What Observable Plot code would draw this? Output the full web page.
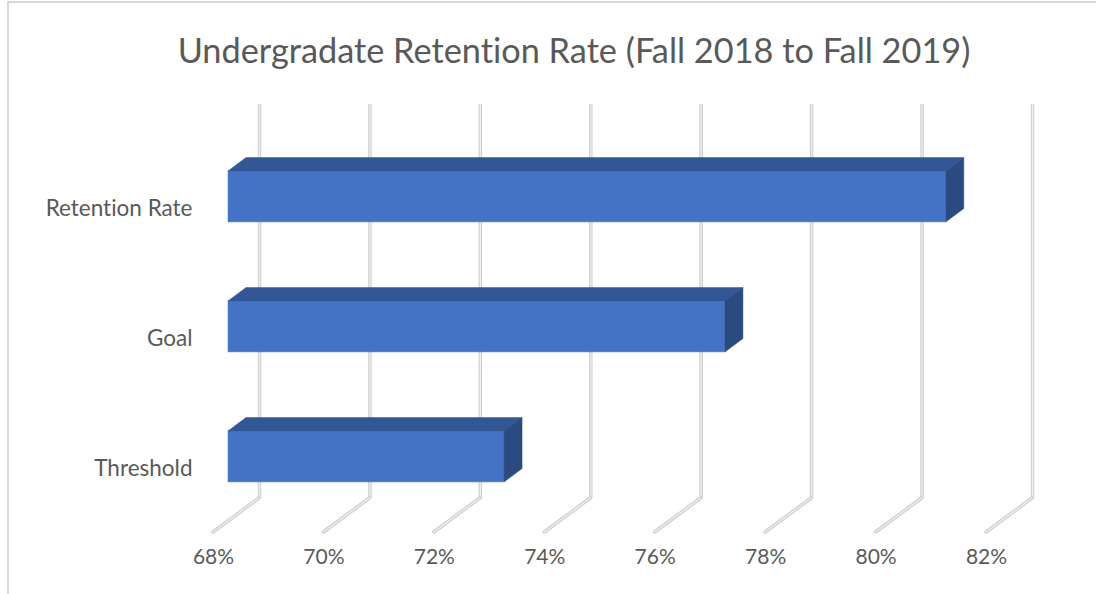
<!DOCTYPE html>
<html><head><meta charset="utf-8">
<script src="https://cdn.jsdelivr.net/npm/d3@7"></script>
<script src="https://cdn.jsdelivr.net/npm/@observablehq/plot@0.6"></script>
<style>
html,body{margin:0;padding:0;background:#fff;}
#wrap{position:relative;width:1096px;height:594px;overflow:hidden;font-family:Lato,sans-serif;background:#fff;font-variant-ligatures:none;font-feature-settings:"liga" 0, "clig" 0;}
#wrap text{font-variant-ligatures:none;font-feature-settings:"liga" 0, "clig" 0;}
#frame{position:absolute;left:7px;top:1px;width:2000px;height:2000px;border-left:2px solid #d9d9d9;border-top:2px solid #d9d9d9;}
#title{position:relative;height:92px;box-sizing:border-box;padding-top:29px;padding-left:52px;text-align:center;font-size:34.3px;line-height:42px;color:#595959;white-space:nowrap;}
#chart{position:relative;}
</style></head><body>
<div id="wrap"><div id="frame"></div><div id="title"></div><div id="chart"></div></div>
<script>
const titleText = "Undergradate Retention Rate (Fall 2018 to Fall 2019)";
const categories = ["Retention Rate", "Goal", "Threshold"];
const rates = [81, 77, 73];
const xTicks = [68, 70, 72, 74, 76, 78, 80, 82];
const xDomain = [68, 82];

const data = categories.map((c, i) => ({category: c, rate: rates[i]}));

// 3D projection offsets (pixels) for full depth of the floor
const DEPTH_DX = -46, DEPTH_DY = 34;
const BAR_BACK = 0.283, BAR_FRONT = 0.674;
const PAD_INNER = 0.6077;

document.getElementById("title").textContent = titleText;

function tube(g, x1, y1, x2, y2) {
  g.append("line").attr("x1", x1).attr("y1", y1).attr("x2", x2).attr("y2", y2)
    .attr("stroke", "#cdcdcd").attr("stroke-width", 3.5).attr("stroke-linecap", "round");
  g.append("line").attr("x1", x1).attr("y1", y1).attr("x2", x2).attr("y2", y2)
    .attr("stroke", "#eeeeee").attr("stroke-width", 1.4).attr("stroke-linecap", "round");
}

function floorLines(index, scales, values, dims) {
  const g = d3.create("svg:g");
  const X = scales.x;
  const yb = dims.height - dims.marginBottom;
  for (const t of xTicks) {
    const x0 = X(t);
    tube(g, x0, yb, x0 + DEPTH_DX, yb + DEPTH_DY);
  }
  return g.node();
}

function barFaces(index, scales, values, dims) {
  const g = d3.create("svg:g");
  const X = scales.x, Y = scales.y;
  let bw = Y.bandwidth;
  if (typeof bw === "function") bw = bw.call(Y);
  if (typeof bw !== "number" || !isFinite(bw)) bw = (Y(categories[1]) - Y(categories[0])) * (1 - PAD_INNER);
  const bx = BAR_BACK * DEPTH_DX, by = BAR_BACK * DEPTH_DY;
  const fx = BAR_FRONT * DEPTH_DX, fy = BAR_FRONT * DEPTH_DY;
  for (const d of data) {
    const y0 = Y(d.category);
    const x0 = X(xDomain[0]), x1 = X(d.rate);
    const top = [[x0 + bx, y0 + by], [x1 + bx, y0 + by], [x1 + fx, y0 + fy], [x0 + fx, y0 + fy]];
    const side = [[x1 + bx, y0 + by], [x1 + fx, y0 + fy], [x1 + fx, y0 + bw + fy], [x1 + bx, y0 + bw + by]];
    g.append("path").attr("d", "M" + top.join("L") + "Z").attr("fill", "#335794").attr("stroke", "#335794").attr("stroke-width", 0.5);
    g.append("path").attr("d", "M" + side.join("L") + "Z").attr("fill", "#2a4a80").attr("stroke", "#2a4a80").attr("stroke-width", 0.5);
  }
  return g.node();
}

const chart = Plot.plot({
  width: 1096,
  height: 502,
  marginLeft: 259,
  marginRight: 64,
  marginTop: 12,
  marginBottom: 96,
  x: {domain: xDomain, axis: null},
  y: {domain: categories, range: [-9, 432], paddingInner: PAD_INNER, paddingOuter: 0.5, align: 0.5, axis: null},
  style: {fontFamily: "Lato, sans-serif", background: "transparent", overflow: "visible"},
  marks: [
    Plot.ruleX(xTicks, {stroke: "#cdcdcd", strokeWidth: 3.5}),
    Plot.ruleX(xTicks, {stroke: "#eeeeee", strokeWidth: 1.4}),
    floorLines,
    Plot.barX(data, {y: "category", x1: xDomain[0], x2: "rate", fill: "#4472c4", stroke: "#5a83cc", strokeWidth: 0.6,
      dx: BAR_FRONT * DEPTH_DX, dy: BAR_FRONT * DEPTH_DY}),
    barFaces,
    Plot.text(categories, {y: d => d, text: d => d, frameAnchor: "left", textAnchor: "end",
      dx: DEPTH_DX - 21, dy: 34.5, fontSize: 22.5, fill: "#595959"}),
    Plot.text(xTicks, {x: d => d, text: d => d + "%", frameAnchor: "bottom",
      dx: DEPTH_DX, dy: 65, fontSize: 21, fill: "#595959"})
  ]
});
document.getElementById("chart").appendChild(chart);
</script>
</body></html>
